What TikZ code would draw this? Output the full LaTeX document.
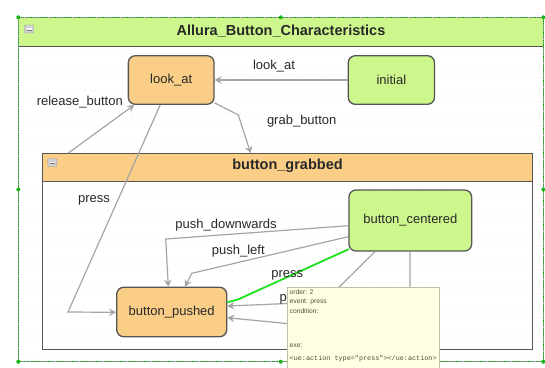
\documentclass[tikz,border=0pt]{standalone}
\usepackage{fontspec}
\setmainfont{Liberation Sans}
\newfontfamily\tipmono{Liberation Mono}
\usetikzlibrary{arrows.meta,calc}
\definecolor{greenfill}{RGB}{205,247,140}
\definecolor{orangefill}{RGB}{250,206,135}
\definecolor{boxline}{RGB}{85,85,85}
\definecolor{linegray}{RGB}{165,165,165}
\definecolor{selgreen}{RGB}{30,225,30}
\definecolor{dotgray}{RGB}{222,222,222}
\definecolor{tipfill}{RGB}{255,255,226}
\definecolor{tipline}{RGB}{190,190,170}
\definecolor{tiptext}{RGB}{80,80,60}
\definecolor{txt}{RGB}{40,40,40}
\tikzset{
  statebox/.style={draw=boxline, line width=1.3pt, rounded corners=7pt, inner sep=0pt,
    font=\fontsize{13}{15}\selectfont, text=txt},
  stateO/.style={statebox, fill=orangefill},
  stateG/.style={statebox, fill=greenfill},
  edge/.style={draw=linegray, line width=1.2pt, -{Stealth[length=7pt,width=7.5pt,inset=2.5pt]}},
  plainedge/.style={draw=linegray, line width=1.2pt},
  lbl/.style={font=\fontsize{13}{15}\selectfont, text=txt, inner sep=0pt},
  titlelbl/.style={font=\bfseries\fontsize{14.5}{17}\selectfont, text=txt, inner sep=0pt},
  tiptxt/.style={font=\fontsize{6.7}{8}\selectfont, text=tiptext, inner sep=0pt, anchor=west},
  minusicon/.style={draw=gray!80, fill=gray!35, rounded corners=1pt, minimum width=9pt, minimum height=8pt, inner sep=0pt},
  seldot/.style={circle, fill=selgreen!80!black, inner sep=0pt, minimum size=4pt},
}
\begin{document}
\begin{tikzpicture}[x=1pt,y=-1pt]
\useasboundingbox (0,0) rectangle (545,367);
\fill[white] (0,0) rectangle (545,367);
% grid dots
\foreach \x in {24,36,...,540} {
  \foreach \y in {54,66,...,360} {
    \fill[dotgray] (\x,\y) circle (0.6pt);
  }
}
% outer container
\node[draw=none, minimum width=525pt, minimum height=344.4pt, inner sep=0pt] (outer) at (280.8,189.5) {};
\fill[greenfill] (18.3,17.3) rectangle (543.3,46.7);
\draw[boxline, line width=1pt] (18.3,46.7) -- (543.3,46.7);
\draw[gray!70, line width=0.6pt] (18.3,17.3) rectangle (543.3,361.7);
\draw[selgreen!70!black, line width=0.8pt, dash pattern=on 1.2pt off 1.2pt] (18.3,17.3) rectangle (543.3,361.7);
\node[titlelbl] (outertitle) at (281,31) {Allura\_Button\_Characteristics};
\node[minusicon] (outerminus) at (29,29) {};
\draw[white, line width=1.2pt] ($(outerminus.center)+(-2.5,0)$) -- ($(outerminus.center)+(2.5,0)$);
\draw[gray!90!black, line width=0.6pt] ($(outerminus.center)+(-2.5,0.8)$) -- ($(outerminus.center)+(2.5,0.8)$);

% inner container
\node[draw=none, minimum width=489.6pt, minimum height=196pt, inner sep=0pt] (grabbed) at (287.5,251.3) {};
\fill[orangefill] (42.7,153.3) rectangle (532.3,181.7);
\draw[boxline, line width=1.3pt] (42.7,181.7) -- (532.3,181.7);
\draw[boxline, line width=1.3pt] (42.7,153.3) rectangle (532.3,349.3);
\node[titlelbl] (innertitle) at (287.5,166) {button\_grabbed};
\node[minusicon] (innerminus) at (52.3,162.5) {};
\draw[white, line width=1.2pt] ($(innerminus.center)+(-2.5,0)$) -- ($(innerminus.center)+(2.5,0)$);
\draw[gray!90!black, line width=0.6pt] ($(innerminus.center)+(-2.5,0.8)$) -- ($(innerminus.center)+(2.5,0.8)$);

% states
\node[stateO, minimum width=85.7pt, minimum height=48.6pt] (lookat) at (171.2,80) {look\_at};
\node[stateG, minimum width=86.2pt, minimum height=48.6pt] (initial) at (391.4,80) {initial};
\node[stateG, minimum width=122.7pt, minimum height=61pt] (bcent) at (410.3,220.5) {button\_centered};
\node[stateO, minimum width=110pt, minimum height=49.4pt] (bpush) at (171.7,312) {button\_pushed};

% helper coordinates
\coordinate (g1) at (238.3,115);
\coordinate (gtop) at (250.7,153.3);
\coordinate (rbot) at (68,153.3);
\coordinate (p1) at (68,312);
\coordinate (d1) at (165.7,239);
\coordinate (l1) at (191.7,273.3);
\coordinate (gr1) at (238.3,299.3);
\coordinate (a1) at (324,302);
\coordinate (b1) at (410,335.6);

% edges
\draw[edge] (initial.west) -- (lookat.east);
\draw[edge] ([yshift=2pt]lookat.south east) -- (g1) -- (gtop);
\draw[edge] (rbot) -- ([xshift=6.5pt]lookat.south west);
\draw[edge] ([xshift=-11pt]lookat.south) -- (p1) -- ([yshift=-0.3pt]bpush.west);
\draw[edge] ([yshift=-5.2pt]bcent.west) -- (d1) -- ([xshift=-3.4pt]bpush.north);
\draw[edge] ([yshift=-16.2pt]bcent.west) -- (l1) -- ([xshift=13.3pt]bpush.north);
\draw[edge] ([xshift=-35.3pt]bcent.south) -- (a1) -- ([yshift=6pt]bpush.east);
\draw[edge] ([xshift=-0.3pt]bcent.south) -- (b1) -- ([yshift=-5.7pt]bpush.east);
\draw[selgreen, line width=1.8pt] ([xshift=0.5pt,yshift=2.5pt]bcent.south west) -- (gr1) -- ([yshift=9.7pt]bpush.east);

% labels
\node[lbl] (l_lookat) at (274,65.7) {look\_at};
\node[lbl] (l_grab) at (301.7,121) {grab\_button};
\node[lbl, anchor=east] (l_release) at (123,102) {release\_button};
\node[lbl] (l_press1) at (94,200) {press};
\node[lbl] (l_pushd) at (226,225) {push\_downwards};
\node[lbl] (l_pushl) at (238.3,250.7) {push\_left};
\node[lbl] (l_press2) at (287.3,275.7) {press};
\node[lbl, anchor=west] (l_press3) at (279.5,299.5) {p};

% selection dots
\foreach \p [count=\i] in {(18.3,17.3),(280.8,17.3),(543.3,17.3),(18.3,189.5),(543.3,189.5),(18.3,361.7),(280.8,361.7),(543.3,361.7)} {
  \node[seldot] (sd\i) at \p {};
}

% tooltip
\node[draw=tipline, fill=tipfill, line width=0.6pt, minimum width=151.6pt, minimum height=82pt, inner sep=0pt, anchor=north west] (tip) at (287,287) {};
\node[tiptxt] (t1) at (289.5,292) {order: 2};
\node[tiptxt] (t2) at (289.5,301.7) {event: press};
\node[tiptxt] (t3) at (289.5,311) {condition:};
\node[tiptxt] (t4) at (289.5,345.7) {exe:};
\node[tiptxt, font=\tipmono\fontsize{6.8}{8}\selectfont] (t5) at (289.5,358.3) {<ue:action type="press"></ue:action>};
\end{tikzpicture}
\end{document}
